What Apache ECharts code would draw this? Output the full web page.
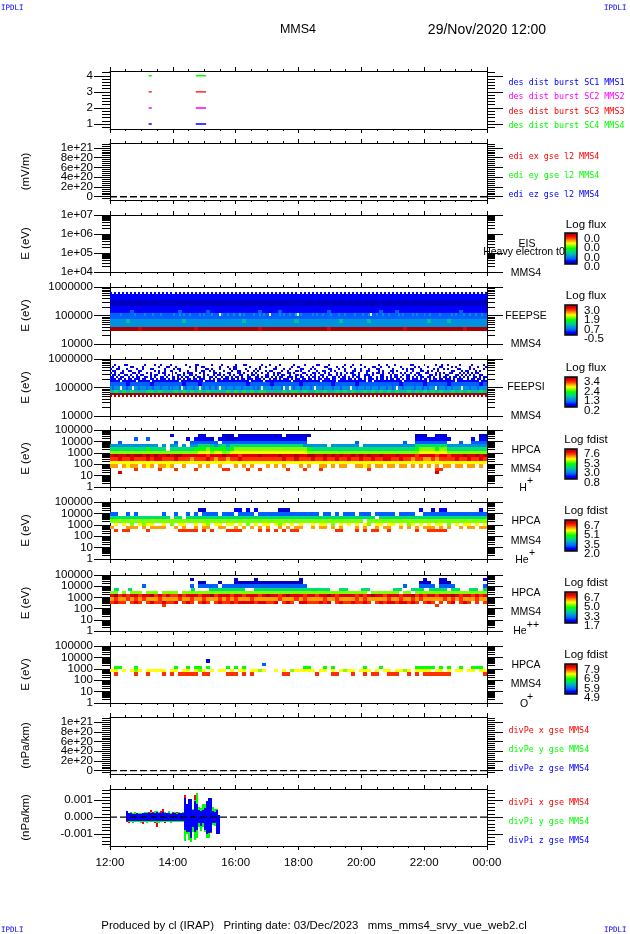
<!DOCTYPE html>
<html>
<head>
<meta charset="utf-8">
<script src="https://cdn.jsdelivr.net/npm/echarts@6/dist/echarts.min.js"></script>
<style>
html,body{margin:0;padding:0;background:#fff;}
#main{width:630px;height:934px;}
</style>
</head>
<body>
<div id="main"></div>
<script>
// time axis, hours from the noon start of the plot
var timeMajor = [12,14,16,18,20,22,24];
var timeMinor = [12.5,13,13.5,14.5,15,15.5,16.5,17,17.5,18.5,19,19.5,20.5,21,21.5,22.5,23,23.5];
var timeLabels = {12:'12:00',14:'14:00',16:'16:00',18:'18:00',20:'20:00',22:'22:00',24:'00:00'};

// burst intervals, one row per spacecraft
var burstTimes = [[13.23,13.33],[14.73,15.06]];
var burstColors = ['#0000ff','#ff00ff','#ff0000','#00ff00'];

// colour levels of the spectrograms, low to high ('.' = no data, digits then a b c)
var palette = ['#0000c8','#0000ff','#0060ff','#0090e0','#00c0a0','#00e070','#00ff00','#80ff00','#ffff00','#ffa000','#ff3000','#e00000','#a80000'];

// FEEPS electrons
var feepseEdges = [5.825,5.766,5.673,5.556,5.439,5.322,5.205,5.088,4.971,4.877,4.737,4.608,4.444];
var feepseRows = [
  "1.1.1.1.1. 1.1.1.1.1. 1.1.1.1.1. 1.1.1.1.1. 1.1.1.1.1. 1.1.1.1.1. 1.1.1.1.1. 1.1.1.1.1. 1.1.1.1.1. 1.1.1.1.1. 1.1.1.1.1. 1.1.1.1.1. 1.1.1.1.1. 1.1.1.1.1. 1.1.1.1.1. 1.1.1.1.1. 1.1.1.1.1. 1.1.1.1.1. 1.1.1.1",
  "1",
  "1",
  "0",
  "0",
  "1",
  "1111121111 1111111211 1111211111 1111111211 1121111111 1111211111 1111111211 1211111111 1111111211 1111",
  "2222232222 2232222322 2322232222 2232232322 3222232322 23222.3223 2232242322 2232232322 .222232322 3224.23222 2232322322 2322232232 2223222322 3.22322322 3222232322 2232322232 2322223222 2232322232 2322322322",
  "2",
  "3333433333 3333333343 3333333333 3334333333 3333334333 3333333433 3333433333 3333333334 3333433333 3333",
  "3",
  "cccccccbcc cccccccccc cbcccccccc cccccccbcc cccccccccc ccccbccccc cccccccccc cccbcccccc ccccccccbc cccc"
];

// FEEPS ions
var feepsiEdges = [5.825,5.754,5.684,5.614,5.544,5.474,5.404,5.333,5.263,5.193,5.053,4.912,4.795,4.725,4.678];
var feepsiRows = [
  "..1....11. .......1.. ..1..1.... 1.......1. ...11..... .1....1... ...1...11. ......1... 1....1.... ..1.....1. ....11.... 1.......1. ..1...1... .....1...1 ...1...... .11.....1. ....1..1.. 1.....1... ..1.....1.",
  ".1..1..... 11....1... ....1...11 ...1...... 1..1..11.. .....1...1 ..11...... 1....1..1. ...1...... .1..11.... ..1.....11 ....1..1.. .1......1. ..11..1... 1.....1... ...1.1.... 1.....11.. ..1.1..... .1...1...1",
  "1..11...1. ...1..1... 11.....1.. ..1.11.... ...1....11 .1...1.... 1.11....1. ...1.1.... ..11...1.. 1.....11.. .1.1...... 11...1..1. ...1..1... 1...11.... ..1....1.1 .11...1... ...1.1..1. 1....11... .1.1....1.",
  ".11...1..1 1...11.... ..1.1..1.. 11...1...1 ...1..11.. 1.1....1.. .1..11...1 ..1.1...1. 11....1..1 ...11.1... 1...1..11. .1.1....1. ..11..1..1 1....1.1.. .11.1....1 ..1...11.. 1.1..1.... ..11...1.1 1...1.1...",
  "1.1..11... .11.1...1. 1...1.11.. .1.1...1.1 11...1.1.. ..11.1...1 1...11.1.. .1.1..1..1 ..1.11...1 1.1....11. ..11.1..1. 1...1.1..1 .11..1...1 ..1.11.1.. 1.1...1.1. .1..11...1 1...1.1.1. .11...1.1. 1.1.11....",
  ".11.1..11. 1..1.11... 1.11...1.1 .1..11.1.. 11.1...1.1 ..1.11.1.. 1.1..11..1 .11.1...11 ..1.1.11.. 1..11.1..1 .1.1..11.. 11..1.1.1. ..11.1..11 1.1...11.. .1.11..1.1 1..1.11... .11.1.1..1 1...11.1.1 .1.1..11..",
  "11.1.11..1 .1.11..11. 1.1..11.1. .11.1.1.11 ..1.11.1.. 11.1..1.11 .1.11.1..1 1..11.1.11 .1.1.11..1 11.1..11.. 1.11.1.1.1 ..11.1.11. 1.1.11..1. 11..1.11.1 .1.11.1..1 1.1.1.11.. 11.1..1.11 .1.11.1.1. 1..11.1.11",
  "111.11.1.1 1.111.11.. 11.1.111.1 .11.11.1.1 1.11.111.. 1.1.11.111 .11.1.11.1 11.111.1.. 1.11.1.111 .1.111.11. 11.1.11.11 1.11..111. 11.1.11.1. 111.1.11.1 .11.11.1.1 1.111.1.11 .1.11.11.1 11.1.111.. 1.11.11.1.",
  "11111.1111 111.111111 .111111111 11111.1111 1111111.11 111.111111 1111111111 .111111.11 1111111111 1.11111111 111111.111 1111.11111 111111111. 11.1111111 1111111.11 1111111111 .111111111 1111.11111 111111.111",
  "2222122222 1222222212 2212222222 2222122222 1222222122 2222212222 2122222222 2212222212 2222122222 2212",
  "32333.3323 3.33233323 3233323332 323332.323 33233.3233 23323.3323 3323332333 332323.333 3233332.33 .323332333 323.333233 3323332333 3.33233323 3233323332 3323.33233 3332333233 2333.23332 3323333.33 3233323333",
  "4545454445 5454445454 5454544445 4545454554 4445455454 4545445454 5445454545 4544545454 5454454545 4454",
  "c",
  "c.c.c.c.c. c.c.c.c.c. c.c.c.c.c. c.c.c.c.c. c.c.c.c.c. c.c.c.c.c. c.c.c.c.c. c.c.c.c.c. c.c.c.c.c. c.c.c.c.c. c.c.c.c.c. c.c.c.c.c. c.c.c.c.c. c.c.c.c.c. c.c.c.c.c. c.c.c.c.c. c.c.c.c.c. c.c.c.c.c. c.c.c.c"
];

// HPCA H+
var hplusEdges = [4.65,4.35,4.06,3.76,3.47,3.18,2.88,2.59,2.29,2.0,1.71,1.41,1.12];
var hplusRows = [
  ".......... .....1.... ..00....00 0.00000000 000.000000 .......... .......... ......000. .000...... ..00",
  "......2..2 .........1 .11110.110 0111111111 111111111. .......... .......... ......1111 11111..... 1.11",
  "..2....... ......2... 2222222.22 2222222222 222222222. .......... .2........ ...2..2222 2222...2.. 2222",
  "3333333333 33.3.33.3. 3355543453 5555555555 5555555533 3333.33333 33.3333333 3333335555 5555333333 3333",
  "5555555556 5555.55555 5666766665 6777777777 7777777776 5555555555 5555555555 5555556777 7677555555 5555",
  "7777777777 7777777777 7788878877 8888888888 8888888887 7777777777 7777777777 7777777888 8888777777 7777",
  "bcbbcbccbc bcbbcbccbb bbbbabbbcb bbabbbbcbb bbcbbbcbbc cbbcbcbcbb cbcbcbbcbb bcbbbbabbb babbabbbcb bcbc",
  "aabaabaaab abbaaabaaa 9aaaba9aa9 aabaaaaaaa aaabaabaaa baabaabaab aabaabaabb aabaa9aa99 a9aaaabaab aaba",
  "8",
  "99.9899.98 9.9989..9. ..9.9..9.. .9.9.9...9 .9.9...9.9 ..99.9.99. .9989.99.9 9.99.9.9.9 .9.99.99.9 9.9.",
  "......a... ..a...a... .a......aa ....a..a.. ....a...a. ..a....... ....a..... .......... .aa....... ....",
  "..b....... .......... .......... .......... .......... .......... .......... .......... .b........ ...."
];

// HPCA He+
var heplusEdges = [4.47,4.12,3.76,3.47,3.18,2.88,2.65,2.35];
var heplusRows = [
  ".......... .......... ..00...... .11.1.1... ..000..... .......... .......... .......1.. 0.11...... ..1.",
  "22..2.2... ...2..2..2 .2.2222.22 2.2222.222 2222222222 22.22.2.22 2.222.2222 2.2222..22 2222222222 2222",
  "5555555555 55555.55.5 5555555555 5555555555 5555555555 5555555555 555555.555 5555555555 5555555555 5555",
  "7777777777 7777777777 7777777777 7777777777 7777777777 7777777777 777.777777 7777777777 7777777777 7777",
  ".8.8.7.878 8..8.7.88. .8.87.88.8 8.8.7.8.88 .878.8.8.. 8.88.7.8.8 .8.87.88.8 8.8.78.8.8 .88.7.8.88 .8.8",
  "9...999.9. 9999..9.9. .9.99..99. .9.9.9.9.9 ..9.9.99.. 9.99.9.9.. .9.9..9.99 ..9.9.9.99 9.9.9..9.9 9.99",
  ".a.aa....a .......aaa aa.a.a...a aaa....a.a .a.a.aa... ......aa.. .a.a.aa..a ......a..a aaaa...... ...."
];

// HPCA He++
var heplus2Edges = [4.76,4.47,4.18,3.88,3.59,3.29,3.0,2.71,2.41,2.12];
var heplus2Rows = [
  ".......... .......... 0......... .0....0... .......0.. .......... .......... ........0. ..00...... ...1",
  ".......... .......... ..00...0.. .000000000 00000000.. .......... .......... .......000 ..000..... ....",
  "........2. .......... 2.22222.22 2222222222 222222222. .......... .......... ...2...222 2.2222.... ...2",
  ".5..5..... ........5. ..55555555 ..55555555 555555555. .55...55.. ...55..555 .5555.55.. 55.5",
  "77.7.777.7 77.7777.77 7777777777 7777777777 7777777777 7777777777 7777.77777 77.77.7777 7777777777 7777",
  "bcababbabb cababaabab bbabbcabbb abbabbbabc bbabcbbbab babbcbabbb bababcbbab bbabbcabab babbbcbabb abab",
  "9a99a9a9a9 99a9999a99 a99a999a9a 9a999a9999 99a999a9a9 999a99a999 9a9a99999a 99a99a9a99 999a9a9a99 9a99",
  "abaa.aba.a baabaab.ab a.aba.abaa babbbbabba ab.aba.bba aabab.abaa baaba.abab babbaba.ab a.a.ab.aba .a.a",
  ".......... ...a...... .......... .......... .......... .......... .......... .......... .a........ ...."
];

// HPCA O+
var oplusEdges = [3.84,3.55,3.26,2.97,2.68,2.38];
var oplusRows = [
  ".......... .......... ....0..... .......... .......... .......... .......... .......... .......... ....",
  ".......... .......... .......... ........2. .......... .......... .......... .......... .......... ....",
  ".66...6... ......6..6 .66.6....6 .6.6...... ........66 ...6.6.... ...6...6.. ......6666 6.6.6..6.. 666.",
  "88.8.878.8 8888.88.88 .878.8.88. 8.88.8878. .8.8.78888 8.88.8.878 8.888.8.88 .8878.8888 .88.8.88.8 8.88",
  ".a....a..a ...a.a.aaa aa.aa....a aa.a.a.... ...aa..... .a...aa... a..a.aa..a aa..a.a.aa aaaaa..... ...a"
];

// divPi envelope per time bin, units of 1e-3 nPa/km
var divPiTimes = [12.50,12.56,12.63,12.69,12.75,12.82,12.88,12.95,13.01,13.07,13.14,13.20,13.26,13.33,13.39,13.46,13.52,13.58,13.65,13.71,13.77,13.84,13.90,13.97,14.03,14.09,14.16,14.22,14.28,14.35,14.41,14.47,14.54,14.60,14.67,14.73,14.79,14.86,14.92,14.98,15.05,15.11,15.18,15.24,15.30,15.37,15.43,15.49];
var divPiZHigh = [.36,.26,.22,.2,.2,.22,.2,.2,.24,.24,.24,.22,.26,.24,.26,.3,.26,.24,.3,.26,.22,.24,.2,.24,.24,.2,.26,.22,.24,1.15,.8,1.1,1.05,.4,.95,.75,.4,.35,.4,.55,.95,1.15,1.15,.35,.3,.45,.15];
var divPiZLow = [-.24,-.24,-.2,-.24,-.2,-.2,-.22,-.2,-.2,-.2,-.2,-.22,-.2,-.2,-.2,-.2,-.24,-.2,-.2,-.2,-.2,-.2,-.2,-.2,-.22,-.2,-.2,-.2,-.2,-.73,-.85,-.85,-1.25,-.6,-.85,-.75,-.35,-.55,-.35,-.75,-1.0,-.95,-.85,-.35,-.35,-1.0,-1.0];
var divPiYHigh = [.2,.24,.28,.24,.3,.26,.22,.24,.26,.28,.3,.24,.3,.26,.34,.36,.28,.26,.32,.28,.26,.34,.24,.26,.3,.22,.3,.26,.3,1.15,.7,.95,.9,.5,1.0,1.4,.6,.55,.75,.75,.85,.7,.9,.6,.5,.5,.1];
var divPiYLow = [-.2,-.3,-.26,-.34,-.3,-.28,-.26,-.34,-.3,-.3,-.36,-.3,-.26,-.3,-.3,-.34,-.36,-.28,-.3,-.3,-.28,-.3,-.34,-.3,-.3,-.26,-.3,-.3,-.3,-1.4,-1.0,-1.35,-1.45,-.9,-1.35,-1.2,-.6,-.8,-.6,-.9,-1.2,-1.2,-.9,-.45,-.5,-.5,-.2];
var divPiXHigh = [.2,.2,.2,.24,.2,.26,.24,.2,.22,.26,.24,.3,.4,.3,.26,.24,.3,.34,.5,.3,.24,.2,.26,.28,.22,.3,.2,.24,.24,1.3,.7,.8,.6,.45,1.3,.9,.4,.4,.45,.5,.7,.9,.7,.45,.35,.35,.15];
var divPiXLow = [-.3,-.34,-.26,-.2,-.22,-.3,-.24,-.26,-.4,-.3,-.28,-.3,-.26,-.3,-.35,-.6,-.3,-.28,-.25,-.32,-.24,-.26,-.3,-.28,-.24,-.22,-.26,-.2,-.24,-.8,-.7,-.9,-1.1,-.65,-.9,-.8,-.45,-.6,-.4,-.85,-1.05,-1.05,-.95,-.4,-.4,-.45,-.15];

// tick labels of the y axes
var burstTicks = [1,2,3,4];
var burstMinor = [0.8,1.2,1.4,1.6,1.8,2.2,2.4,2.6,2.8,3.2,3.4,3.6,3.8,4.2];
var zeroTicks = [0,2e20,4e20,6e20,8e20,1e21];
var zeroLabels = ['0','2e+20','4e+20','6e+20','8e+20','1e+21'];
var eisLabels = ['1e+04','1e+05','1e+06','1e+07'];
var feepsLabels = ['10000','100000','1000000'];
var hpcaLabels = ['1','10','100','1000','10000','100000'];
var divPiTicks = [-0.001,0,0.001];
var divPiLabels = ['-0.001','0.000','0.001'];

var FONT = '"Liberation Sans"';
var MONO = '"DejaVu Sans Mono"';

function decades(lo, hi) {
	var out = [];
	for (var d = lo; d <= hi; d++) out.push(d);
	return out;
}
function logMinor(lo, hi) {
	var out = [];
	for (var d = lo; d < hi; d++) {
		for (var k = 2; k < 10; k++) out.push(d + Math.log(k) / Math.LN10);
	}
	return out;
}
function linMinor(lo, hi, step, majors) {
	var out = [];
	for (var i = Math.ceil(lo / step); i * step <= hi; i++) {
		var v = i * step, isMajor = false;
		for (var m = 0; m < majors.length; m++) {
			if (Math.abs(majors[m] - v) < step / 10) isMajor = true;
		}
		if (!isMajor) out.push(v);
	}
	return out;
}

// one entry per panel, top to bottom
var panels = [
	{top:71, bottom:129, min:0.69, max:4.3, ticks:burstTicks, labels:['1','2','3','4'], minor:burstMinor},
	{top:143, bottom:200, min:-0.068e21, max:1.1e21, ticks:zeroTicks, labels:zeroLabels, minor:linMinor(-0.06e21,1.1e21,4e19,zeroTicks), name:'(mV/m)'},
	{top:215, bottom:272, min:4, max:7, ticks:decades(4,7), labels:eisLabels, minor:logMinor(4,7), name:'E (eV)'},
	{top:287, bottom:344, min:4, max:6, ticks:decades(4,6), labels:feepsLabels, minor:logMinor(4,6), name:'E (eV)'},
	{top:359, bottom:416, min:4, max:6, ticks:decades(4,6), labels:feepsLabels, minor:logMinor(4,6), name:'E (eV)'},
	{top:430, bottom:487, min:0, max:5, ticks:decades(0,5), labels:hpcaLabels, minor:logMinor(0,5), name:'E (eV)'},
	{top:502, bottom:559, min:0, max:5, ticks:decades(0,5), labels:hpcaLabels, minor:logMinor(0,5), name:'E (eV)'},
	{top:575, bottom:631, min:0, max:5, ticks:decades(0,5), labels:hpcaLabels, minor:logMinor(0,5), name:'E (eV)'},
	{top:646, bottom:703, min:0, max:5, ticks:decades(0,5), labels:hpcaLabels, minor:logMinor(0,5), name:'E (eV)'},
	{top:717, bottom:774, min:-0.07e21, max:1.11e21, ticks:zeroTicks, labels:zeroLabels, minor:linMinor(-0.06e21,1.1e21,4e19,zeroTicks), name:'(nPa/km)'},
	{top:789, bottom:846, min:-0.0017, max:0.00166, ticks:divPiTicks, labels:divPiLabels, minor:linMinor(-0.0016,0.0016,0.0002,divPiTicks), name:'(nPa/km)'}
];

var grids = [], xAxes = [], yAxes = [], series = [], visualMaps = [], graphics = [];

function sideAxis(i, pos, isMajor, labelEvery) {
	var p = panels[i];
	var values = isMajor ? p.ticks : p.minor;
	var ax = {
		type:'value', gridIndex:i, position:pos, min:p.min, max:p.max, scale:true,
		splitLine:{show:false},
		axisLine:{show:isMajor, onZero:false, lineStyle:{color:'#000', width:1}},
		axisTick:{show:true, length:isMajor ? 16 : 8, customValues:values, lineStyle:{color:'#000', width:1}},
		axisLabel:{show:false}
	};
	if (labelEvery !== undefined) {
		// the labels sit too close for one axis, it would drop some, so two axes take turns
		var shown = p.ticks.filter(function(v, k){ return k % 2 === labelEvery; });
		ax.axisLabel = {show:true, customValues:shown, margin:17, color:'#000', fontFamily:FONT, fontSize:11.5,
			showMinLabel:true, showMaxLabel:true,
			formatter:function(v){
				for (var k = 0; k < p.ticks.length; k++) {
					if (Math.abs(p.ticks[k] - v) < 1e-9 * Math.max(1, Math.abs(v))) return p.labels[k];
				}
				return '';
			}};
		if (p.name && labelEvery === 0) {
			ax.name = p.name;
			ax.nameLocation = 'middle';
			ax.nameGap = 78;
			ax.nameRotate = 90;
			ax.nameTextStyle = {color:'#000', fontFamily:FONT, fontSize:11.5};
		}
	}
	return ax;
}
function timeAxis(i, pos, isMajor, withLabels) {
	var ax = {
		type:'value', gridIndex:i, position:pos, min:12, max:24,
		splitLine:{show:false},
		axisLine:{show:isMajor, onZero:false, lineStyle:{color:'#000', width:1}},
		axisTick:{show:true, length:isMajor ? 4 : 2, customValues:isMajor ? timeMajor : timeMinor, lineStyle:{color:'#000', width:1}},
		axisLabel:{show:false}
	};
	if (withLabels) {
		ax.axisLabel = {show:true, customValues:timeMajor, margin:11, color:'#000', fontFamily:FONT, fontSize:11.5,
			showMinLabel:true, showMaxLabel:true,
			formatter:function(v){ return timeLabels[v]; }};
	}
	return ax;
}

panels.forEach(function(p, i){
	grids.push({left:110, width:377, top:p.top, height:p.bottom - p.top});
	// axis 4*i is the one the series use
	xAxes.push(timeAxis(i,'bottom',true,i === panels.length - 1), timeAxis(i,'top',true,false), timeAxis(i,'bottom',false,false), timeAxis(i,'top',false,false));
	yAxes.push(sideAxis(i,'left',true,0), sideAxis(i,'right',true), sideAxis(i,'left',false,1), sideAxis(i,'right',false));
});

// draws one time/energy box through the axes of its panel
function renderBox(params, api) {
	var a = api.coord([api.value(0), api.value(3)]);
	var b = api.coord([api.value(1), api.value(2)]);
	var x0 = Math.round(a[0]), x1 = Math.round(b[0]), y0 = Math.round(a[1]), y1 = Math.round(b[1]);
	return {type:'rect', shape:{x:x0, y:y0, width:Math.max(1, x1 - x0), height:Math.max(1, y1 - y0)},
		style:{fill:api.visual('color')}};
}

function addSpectrum(panel, rows, edges, vmin, vmax, barTop, barBottom) {
	var data = [];
	rows.forEach(function(row, r){
		var cells = row.replace(/ /g,'');
		var dt = 12 / cells.length;
		for (var c = 0; c < cells.length; c++) {
			if (cells[c] === '.') continue;
			data.push([12 + c * dt, 12 + (c + 1) * dt, edges[r + 1], edges[r], vmin + parseInt(cells[c], 13) / 12 * (vmax - vmin)]);
		}
	});
	series.push({type:'custom', xAxisIndex:panel * 4, yAxisIndex:panel * 4, renderItem:renderBox, encode:{x:[0,1], y:[2,3]}, data:data, silent:true, animation:false});
	visualMaps.push({type:'continuous', seriesIndex:series.length - 1, dimension:4, min:vmin, max:vmax, calculable:false, show:true,
		left:565, top:barTop, itemWidth:12, itemHeight:barBottom - barTop, text:null, showLabel:false, padding:0, inRange:{color:palette},
		textStyle:{fontSize:0, color:'rgba(0,0,0,0)'}, formatter:function(){ return ''; }});
}

function addLine(panel, data, color, dashed) {
	series.push({type:'line', xAxisIndex:panel * 4, yAxisIndex:panel * 4, data:data, showSymbol:false, connectNulls:false, silent:true, animation:false,
		lineStyle:{color:color, width:1.4, type:dashed ? [7,3] : 'solid'}, z:5});
}

// panel 0: burst intervals
burstColors.forEach(function(color, k){
	var level = burstTicks[k];
	addLine(0, [[burstTimes[0][0],level],[burstTimes[0][1],level],[null,null],[burstTimes[1][0],level],[burstTimes[1][1],level]], color, false);
});
addLine(1, [[12,0],[24,0]], '#000', true);
addSpectrum(2, [], [], 0, 1, 233, 264);
addSpectrum(3, feepseRows, feepseEdges, -0.5, 3.0, 305, 335);
addSpectrum(4, feepsiRows, feepsiEdges, 0.2, 3.4, 377, 407);
addSpectrum(5, hplusRows, hplusEdges, 0.8, 7.6, 449, 479);
addSpectrum(6, heplusRows, heplusEdges, 2.0, 6.7, 520, 551);
addSpectrum(7, heplus2Rows, heplus2Edges, 1.7, 6.7, 592, 623);
addSpectrum(8, oplusRows, oplusEdges, 4.9, 7.9, 664, 694);
addLine(9, [[12,0],[24,0]], '#000', true);

function addEnvelope(high, low, color) {
	var data = [];
	for (var i = 0; i < high.length; i++) {
		data.push([divPiTimes[i], divPiTimes[i + 1], low[i] * 1e-3, high[i] * 1e-3]);
	}
	series.push({type:'custom', xAxisIndex:40, yAxisIndex:40, renderItem:renderBox, encode:{x:[0,1], y:[2,3]}, data:data, itemStyle:{color:color}, silent:true, animation:false});
}
addEnvelope(divPiXHigh, divPiXLow, '#ff0000');
addEnvelope(divPiYHigh, divPiYLow, '#00ff00');
addEnvelope(divPiZHigh, divPiZLow, '#0000ff');
addLine(10, [[12,0],[24,0]], '#000', true);

// page texts
function text(x, y, str, color, size, align, family) {
	graphics.push({type:'text', x:x, y:y, z:50, silent:true, style:{text:str, fill:color, font:size + 'px ' + family, align:align || 'left', verticalAlign:'middle'}});
}
text(1,8,'IPDLI','#0000ff',7.5,'left',MONO);
text(604,8,'IPDLI','#0000ff',7.5,'left',MONO);
text(1,930,'IPDLI','#0000ff',7.5,'left',MONO);
text(604,930,'IPDLI','#0000ff',7.5,'left',MONO);
text(298,30,'MMS4','#000',12.5,'center',FONT);
text(487,30,'29/Nov/2020 12:00','#000',14,'center',FONT);
text(314,926,'Produced by cl (IRAP)   Printing date: 03/Dec/2023   mms_mms4_srvy_vue_web2.cl','#000',11.4,'center',FONT);

var sideLegend = [
	['des dist burst SC1 MMS1',82.7,'#0000ff'],['des dist burst SC2 MMS2',96.7,'#ff00ff'],['des dist burst SC3 MMS3',111.7,'#ff0000'],['des dist burst SC4 MMS4',126,'#00ff00'],
	['edi ex gse l2 MMS4',157,'#ff0000'],['edi ey gse l2 MMS4',176,'#00ff00'],['edi ez gse l2 MMS4',195,'#0000ff'],
	['divPe x gse MMS4',731,'#ff0000'],['divPe y gse MMS4',750,'#00ff00'],['divPe z gse MMS4',769,'#0000ff'],
	['divPi x gse MMS4',803,'#ff0000'],['divPi y gse MMS4',822,'#00ff00'],['divPi z gse MMS4',841,'#0000ff']
];
sideLegend.forEach(function(l){ text(508.5,l[1],l[0],l[2],8.4,'left',MONO); });

var panelNames = [
	['EIS',527,244],['Heavy electron t0',524,252],['MMS4',526,273],['FEEPSE',526,316],['MMS4',526,344],['FEEPSI',526,387],['MMS4',526,416],
	['HPCA',526,450],['MMS4',526,469],['H',523,488],['+',530,481],
	['HPCA',526,521],['MMS4',526,541],['He',522,560],['+',532,553],
	['HPCA',526,593],['MMS4',526,612],['He',520,631],['++',533,625],
	['HPCA',526,665],['MMS4',526,684],['O',524,704],['+',530,697]
];
panelNames.forEach(function(l){ text(l[1],l[2],l[0],'#000',10.5,'center',FONT); });

var colorBars = [
	{title:'Log flux', titleY:225, top:233, bottom:264, labels:['0.0','0.0','0.0','0.0'], ys:[239,248,258,267]},
	{title:'Log flux', titleY:296, top:305, bottom:335, labels:['3.0','1.9','0.7','-0.5'], ys:[311,320,330,339]},
	{title:'Log flux', titleY:368, top:377, bottom:407, labels:['3.4','2.4','1.3','0.2'], ys:[382,392,401,411]},
	{title:'Log fdist', titleY:440, top:449, bottom:479, labels:['7.6','5.3','3.0','0.8'], ys:[454,464,473,483]},
	{title:'Log fdist', titleY:511, top:520, bottom:551, labels:['6.7','5.1','3.5','2.0'], ys:[526,535,545,554]},
	{title:'Log fdist', titleY:583, top:592, bottom:623, labels:['6.7','5.0','3.3','1.7'], ys:[598,607,617,626]},
	{title:'Log fdist', titleY:655, top:664, bottom:694, labels:['7.9','6.9','5.9','4.9'], ys:[670,679,689,698]}
];
colorBars.forEach(function(b){
	text(586,b.titleY,b.title,'#000',11.5,'center',FONT);
	b.labels.forEach(function(s, k){ text(584,b.ys[k],s,'#000',11.5,'left',FONT); });
	graphics.push({type:'rect', z:50, silent:true, shape:{x:565,y:b.top,width:12,height:b.bottom - b.top}, style:{fill:null, stroke:'#000', lineWidth:1.5}});
});

var option = {
	backgroundColor:'#fff',
	animation:false,
	tooltip:{show:false},
	grid:grids,
	xAxis:xAxes,
	yAxis:yAxes,
	visualMap:visualMaps,
	series:series,
	graphic:graphics
};

var myChart = echarts.init(document.getElementById('main'), null, {renderer:'canvas'});
myChart.setOption(option);
</script>
</body>
</html>
